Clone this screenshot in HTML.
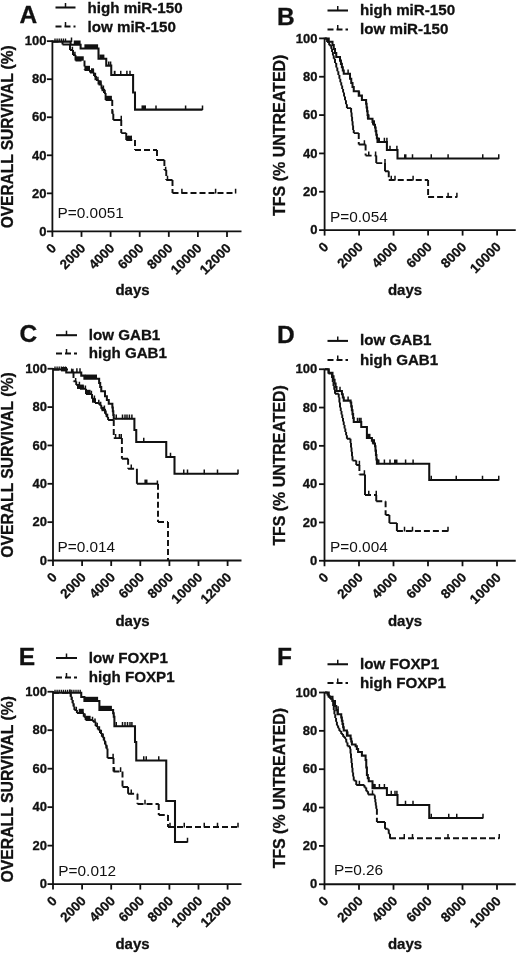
<!DOCTYPE html>
<html><head><meta charset="utf-8"><title>Figure</title>
<style>
html,body{margin:0;padding:0;background:#fff}
svg{display:block}
text{font-family:"Liberation Sans", sans-serif;fill:#111}
.b{font-weight:bold;stroke:#111;stroke-width:0.3px}
.ax{stroke:#111;stroke-width:1.8;fill:none}
.cv{stroke:#111;stroke-width:2.05;fill:none}
.ds{stroke:#111;stroke-width:1.8;fill:none;stroke-dasharray:6 3}
.tk2{stroke:#111;stroke-width:1.35;fill:none}
.cv2{stroke:#111;stroke-width:1.95;fill:none;stroke-linecap:butt}
.tk{stroke:#111;stroke-width:1.5;fill:none}
</style></head><body>
<svg width="520" height="955" viewBox="0 0 520 955">
<rect width="520" height="955" fill="#fff"/>
<g id="panelA">
<path class="ax" d="M52.40 40.35 V231.40 H241.50"/>
<path class="ax" d="M46.90 231.40 H52.40"/><text class="b" x="46.40" y="235.60" font-size="13" text-anchor="end">0</text>
<path class="ax" d="M46.90 193.35 H52.40"/><text class="b" x="46.40" y="197.55" font-size="13" text-anchor="end">20</text>
<path class="ax" d="M46.90 155.30 H52.40"/><text class="b" x="46.40" y="159.50" font-size="13" text-anchor="end">40</text>
<path class="ax" d="M46.90 117.25 H52.40"/><text class="b" x="46.40" y="121.45" font-size="13" text-anchor="end">60</text>
<path class="ax" d="M46.90 79.20 H52.40"/><text class="b" x="46.40" y="83.40" font-size="13" text-anchor="end">80</text>
<path class="ax" d="M46.90 41.15 H52.40"/><text class="b" x="46.40" y="45.35" font-size="13" text-anchor="end">100</text>
<path class="ax" d="M52.40 231.40 V236.90"/><text class="b" font-size="13.4" text-anchor="end" transform="translate(57.10 249.00) rotate(-45)">0</text>
<path class="ax" d="M81.50 231.40 V236.90"/><text class="b" font-size="13.4" text-anchor="end" transform="translate(86.20 249.00) rotate(-45)">2000</text>
<path class="ax" d="M110.60 231.40 V236.90"/><text class="b" font-size="13.4" text-anchor="end" transform="translate(115.30 249.00) rotate(-45)">4000</text>
<path class="ax" d="M139.70 231.40 V236.90"/><text class="b" font-size="13.4" text-anchor="end" transform="translate(144.40 249.00) rotate(-45)">6000</text>
<path class="ax" d="M168.80 231.40 V236.90"/><text class="b" font-size="13.4" text-anchor="end" transform="translate(173.50 249.00) rotate(-45)">8000</text>
<path class="ax" d="M197.90 231.40 V236.90"/><text class="b" font-size="13.4" text-anchor="end" transform="translate(202.60 249.00) rotate(-45)">10000</text>
<path class="ax" d="M227.00 231.40 V236.90"/><text class="b" font-size="13.4" text-anchor="end" transform="translate(231.70 249.00) rotate(-45)">12000</text>
<text class="b" x="132.50" y="295.00" font-size="15" text-anchor="middle">days</text>
<text class="b" font-size="15.5" text-anchor="middle" transform="translate(12.60 136.78) rotate(-90) scale(1 1.05)">OVERALL SURVIVAL (%)</text>
<text class="b" x="19.50" y="22.75" font-size="24.5">A</text>
<path class="cv" d="M55.50 7.50 H75.50"/><path class="tk" d="M65.50 7.50 V3.00"/><text class="b" x="87.50" y="12.90" font-size="15.15">high miR-150</text>
<path class="ds" d="M55.50 26.50 H75.50"/><path class="tk" d="M65.50 26.50 V22.00"/><text class="b" x="87.50" y="31.90" font-size="15.15">low miR-150</text>
<text x="57.50" y="218.40" font-size="15.4">P=0.0051</text>
<path class="cv" d="M52.50 41.60 H70.60 V44.70 H80.60 V48.50 H98.50 V58.75 H106.25 V65.60 H111.25 V75.00 H133.10 V92.50 H135.00 V109.60 H202.50"/>
<path class="cv2" d="M52.50 41.60 L58.50 41.60M61.50 41.60 L62.50 41.60M62.50 41.60 L62.50 44.50M62.50 44.50 L70.00 44.50M70.00 44.50 L70.00 50.00M70.00 50.00 L73.00 50.00M73.00 50.00 L73.00 55.00M73.00 55.00 L75.50 55.00M75.50 55.00 L75.50 60.50M75.50 60.50 L81.50 60.50M84.50 60.50 L84.50 66.50M84.50 69.50 L84.50 70.00M84.50 70.00 L90.00 70.00M90.00 70.00 L90.00 72.50M90.00 72.50 L94.00 72.50M94.00 72.50 L94.00 76.00M94.00 76.00 L96.00 76.00M96.00 76.00 L96.00 80.00M96.00 80.00 L98.50 80.00M98.50 80.00 L98.50 84.50M98.50 84.50 L101.50 84.50M101.50 84.50 L101.50 88.75M101.50 88.75 L104.00 88.75M104.00 88.75 L104.00 93.00M104.00 93.00 L105.60 93.00M105.60 93.00 L105.60 100.00M105.60 100.00 L112.25 100.00M112.25 100.00 L112.25 106.00M112.25 109.00 L112.25 113.75M112.25 113.75 L113.30 113.75M113.30 113.75 L113.30 120.00M113.30 120.00 L121.25 120.00M121.25 120.00 L121.25 126.00M121.25 129.00 L121.25 133.10M121.25 133.10 L126.25 133.10M126.25 133.10 L126.25 140.00M126.25 140.00 L132.25 140.00M135.00 140.00 L135.00 146.00M135.00 149.00 L135.00 150.00M135.00 150.00 L141.00 150.00M144.00 150.00 L150.00 150.00M153.00 150.00 L157.00 150.00M157.00 150.00 L157.00 156.00M157.00 159.00 L157.00 160.00M157.00 160.00 L164.40 160.00M164.40 160.00 L164.40 166.00M164.40 169.00 L164.40 170.00M164.40 170.00 L166.25 170.00M166.25 170.00 L166.25 176.00M166.25 179.00 L166.25 180.00M166.25 180.00 L172.50 180.00M172.50 180.00 L172.50 186.00M172.50 189.00 L172.50 193.00M172.50 193.00 L178.50 193.00M181.50 193.00 L187.50 193.00M190.50 193.00 L196.50 193.00M199.50 193.00 L205.50 193.00M208.50 193.00 L214.50 193.00M217.50 193.00 L223.50 193.00M226.50 193.00 L232.50 193.00M235.50 193.00 L235.60 193.00"/>
<path class="tk" d="M72.40 50.00 V46.80M74.90 55.00 V51.80M93.40 72.50 V69.30M95.40 76.00 V72.80M97.90 80.00 V76.80M100.90 84.50 V81.30M103.40 88.75 V85.55M105.00 93.00 V89.80M112.70 113.75 V110.55M165.65 170.00 V166.80"/>
<path class="tk" d="M71.50 42.10 V37.40M108.75 66.10 V61.40M110.60 66.10 V61.40M126.90 75.50 V70.80M130.00 75.50 V70.80M156.00 110.10 V105.40M185.60 110.10 V105.40M202.50 110.10 V105.40M121.25 120.50 V115.80M128.75 140.50 V135.80M131.25 140.50 V135.80M167.50 180.50 V175.80M181.90 193.50 V188.80M215.60 193.50 V188.80M235.60 193.50 V188.80"/>
<path class="tk2" d="M55.00 41.60 V38.60M57.10 41.60 V38.60M59.20 41.60 V38.60M61.30 41.60 V38.60M63.40 41.60 V38.60M65.50 41.60 V38.60"/>
<rect x="73.75" y="40.50" width="6.85" height="4.4" fill="#111"/>
<rect x="84.40" y="44.30" width="13.70" height="4.4" fill="#111"/>
<rect x="99.40" y="54.55" width="5.00" height="4.4" fill="#111"/>
<rect x="113.75" y="70.80" width="1.85" height="4.4" fill="#111"/>
<rect x="120.00" y="70.80" width="1.50" height="4.4" fill="#111"/>
<rect x="141.50" y="105.40" width="4.50" height="4.4" fill="#111"/>
<rect x="75.60" y="56.30" width="8.15" height="4.4" fill="#111"/>
<rect x="84.40" y="65.80" width="5.60" height="4.4" fill="#111"/>
<rect x="105.60" y="95.80" width="6.30" height="4.4" fill="#111"/>
<rect x="91.00" y="68.30" width="3.00" height="4.4" fill="#111"/>
<rect x="94.50" y="75.80" width="2.00" height="4.4" fill="#111"/>
<rect x="99.00" y="80.30" width="2.50" height="4.4" fill="#111"/>
<rect x="101.50" y="86.80" width="2.50" height="4.4" fill="#111"/>
<rect x="126.50" y="135.80" width="5.50" height="4.4" fill="#111"/>
</g>
<g id="panelB">
<path class="ax" d="M324.60 37.60 V230.10 H515.75"/>
<path class="ax" d="M319.10 230.10 H324.60"/><text class="b" x="317.40" y="234.30" font-size="13" text-anchor="end">0</text>
<path class="ax" d="M319.10 191.76 H324.60"/><text class="b" x="317.40" y="195.96" font-size="13" text-anchor="end">20</text>
<path class="ax" d="M319.10 153.42 H324.60"/><text class="b" x="317.40" y="157.62" font-size="13" text-anchor="end">40</text>
<path class="ax" d="M319.10 115.08 H324.60"/><text class="b" x="317.40" y="119.28" font-size="13" text-anchor="end">60</text>
<path class="ax" d="M319.10 76.74 H324.60"/><text class="b" x="317.40" y="80.94" font-size="13" text-anchor="end">80</text>
<path class="ax" d="M319.10 38.40 H324.60"/><text class="b" x="317.40" y="42.60" font-size="13" text-anchor="end">100</text>
<path class="ax" d="M324.60 230.10 V235.60"/><text class="b" font-size="13.4" text-anchor="end" transform="translate(329.30 247.70) rotate(-45)">0</text>
<path class="ax" d="M359.10 230.10 V235.60"/><text class="b" font-size="13.4" text-anchor="end" transform="translate(363.80 247.70) rotate(-45)">2000</text>
<path class="ax" d="M393.60 230.10 V235.60"/><text class="b" font-size="13.4" text-anchor="end" transform="translate(398.30 247.70) rotate(-45)">4000</text>
<path class="ax" d="M428.10 230.10 V235.60"/><text class="b" font-size="13.4" text-anchor="end" transform="translate(432.80 247.70) rotate(-45)">6000</text>
<path class="ax" d="M462.60 230.10 V235.60"/><text class="b" font-size="13.4" text-anchor="end" transform="translate(467.30 247.70) rotate(-45)">8000</text>
<path class="ax" d="M497.10 230.10 V235.60"/><text class="b" font-size="13.4" text-anchor="end" transform="translate(501.80 247.70) rotate(-45)">10000</text>
<text class="b" x="405.00" y="295.00" font-size="15" text-anchor="middle">days</text>
<text class="b" font-size="16.0" text-anchor="middle" transform="translate(284.50 135.25) rotate(-90) scale(1 1.05)">TFS (% UNTREATED)</text>
<text class="b" x="277.00" y="25.20" font-size="24.5">B</text>
<path class="cv" d="M327.50 10.50 H348.00"/><path class="tk" d="M337.75 10.50 V6.00"/><text class="b" x="360.00" y="15.00" font-size="15.15">high miR-150</text>
<path class="ds" d="M327.50 29.50 H348.00"/><path class="tk" d="M337.75 29.50 V25.00"/><text class="b" x="360.00" y="34.00" font-size="15.15">low miR-150</text>
<text x="330.00" y="221.75" font-size="15.4">P=0.054</text>
<path class="cv" d="M325.00 38.50 H328.75 V41.75 H332.50 V45.00 H333.75 V48.97 H335.00 V52.93 H336.25 V56.90 H340.00 V60.60 H340.94 V63.89 H341.88 V67.17 H342.81 V70.46 H343.75 V73.75 H348.10 H350.00 V78.75 H351.25 V82.92 H352.50 V87.08 H353.75 V91.25 H358.75 V95.60 H361.90 V100.00 H365.60 H366.10 V103.75 H366.60 V107.50 H367.10 V111.25 H367.60 V115.00 H368.10 V118.75 H372.50 V121.90 H373.75 V124.70 H375.00 V127.50 H375.62 V131.10 H376.25 V134.70 H376.88 V138.30 H377.50 V141.90 H386.90 V150.00 H397.50 V158.50 H498.75"/>
<path class="cv2" d="M325.00 38.50 L327.08 38.50M327.08 38.50 L327.08 41.92M327.08 41.92 L329.17 41.92M329.17 41.92 L329.17 45.33M329.17 45.33 L331.25 45.33M331.25 45.33 L331.25 48.75M331.25 48.75 L332.08 48.75M332.08 48.75 L332.08 52.08M332.08 52.08 L332.92 52.08M332.92 52.08 L332.92 55.42M332.92 55.42 L333.75 55.42M333.75 55.42 L333.75 58.75M333.75 58.75 L335.00 58.75M335.00 58.75 L335.00 63.12M335.00 63.12 L336.25 63.12M336.25 63.12 L336.25 67.50M336.25 67.50 L337.30 67.50M337.30 67.50 L337.30 71.25M337.30 71.25 L338.35 71.25M338.35 71.25 L338.35 75.00M338.35 75.00 L339.40 75.00M339.40 75.00 L339.40 78.75M339.40 78.75 L340.32 78.75M340.32 78.75 L340.32 82.19M340.32 82.19 L341.25 82.19M341.25 82.19 L341.25 85.62M341.25 85.62 L342.18 85.62M342.18 85.62 L342.18 89.06M342.18 89.06 L343.10 89.06M343.10 89.06 L343.10 92.50M343.10 92.50 L344.05 92.50M344.05 92.50 L344.05 96.40M344.05 96.40 L345.00 96.40M345.00 96.40 L345.00 100.30M345.00 100.30 L345.95 100.30M345.95 100.30 L345.95 104.20M345.95 104.20 L346.90 104.20M346.90 104.20 L346.90 108.10M346.90 108.10 L350.60 108.10M350.60 108.10 L351.10 108.10M351.10 108.10 L351.10 112.48M351.10 112.48 L351.60 112.48M351.60 112.48 L351.60 116.86M351.60 116.86 L352.10 116.86M352.10 116.86 L352.10 121.24M352.10 121.24 L352.60 121.24M352.60 121.24 L352.60 125.62M352.60 125.62 L353.10 125.62M353.10 125.62 L353.10 130.00M353.10 130.00 L353.75 130.00M353.75 130.00 L353.75 133.10M353.75 133.10 L358.75 133.10M358.75 133.10 L358.75 139.10M358.75 142.10 L358.75 144.40M358.75 144.40 L365.60 144.40M365.60 144.40 L365.60 150.40M365.60 153.40 L365.60 155.60M365.60 155.60 L371.60 155.60M374.60 155.60 L376.25 155.60M376.25 155.60 L376.25 163.10M376.25 163.10 L382.25 163.10M385.00 163.10 L385.00 171.25M385.00 171.25 L388.75 171.25M388.75 171.25 L388.75 177.25M388.75 180.00 L394.75 180.00M397.75 180.00 L403.75 180.00M406.75 180.00 L412.75 180.00M415.75 180.00 L421.75 180.00M424.75 180.00 L428.10 180.00M428.10 180.00 L428.10 186.00M428.10 189.00 L428.10 195.00M428.10 196.90 L434.10 196.90M437.10 196.90 L443.10 196.90M446.10 196.90 L452.10 196.90M455.10 196.90 L456.90 196.90"/>
<path class="tk" d="M348.10 74.25 V69.55M359.40 96.10 V91.40M384.40 142.40 V137.70M386.90 142.40 V137.70M390.00 150.50 V145.80M396.90 150.50 V145.80M412.50 159.00 V154.30M431.25 159.00 V154.30M448.10 159.00 V154.30M482.75 159.00 V154.30M498.75 159.00 V154.30M364.40 144.90 V140.20M368.75 156.10 V151.40M375.60 156.10 V151.40M385.00 163.60 V158.90M391.25 180.50 V175.80M395.00 180.50 V175.80M413.10 180.50 V175.80M448.10 197.40 V192.70M456.90 197.40 V192.70"/>
<rect x="366.90" y="114.55" width="2.60" height="4.4" fill="#111"/>
<rect x="372.00" y="120.30" width="3.00" height="4.4" fill="#111"/>
<rect x="377.00" y="137.70" width="3.00" height="4.4" fill="#111"/>
<rect x="404.00" y="154.30" width="2.50" height="4.4" fill="#111"/>
</g>
<g id="panelC">
<path class="ax" d="M53.00 367.95 V560.50 H241.50"/>
<path class="ax" d="M47.50 560.50 H53.00"/><text class="b" x="47.00" y="564.70" font-size="13" text-anchor="end">0</text>
<path class="ax" d="M47.50 522.15 H53.00"/><text class="b" x="47.00" y="526.35" font-size="13" text-anchor="end">20</text>
<path class="ax" d="M47.50 483.80 H53.00"/><text class="b" x="47.00" y="488.00" font-size="13" text-anchor="end">40</text>
<path class="ax" d="M47.50 445.45 H53.00"/><text class="b" x="47.00" y="449.65" font-size="13" text-anchor="end">60</text>
<path class="ax" d="M47.50 407.10 H53.00"/><text class="b" x="47.00" y="411.30" font-size="13" text-anchor="end">80</text>
<path class="ax" d="M47.50 368.75 H53.00"/><text class="b" x="47.00" y="372.95" font-size="13" text-anchor="end">100</text>
<path class="ax" d="M53.00 560.50 V566.00"/><text class="b" font-size="13.4" text-anchor="end" transform="translate(57.70 578.10) rotate(-45)">0</text>
<path class="ax" d="M82.10 560.50 V566.00"/><text class="b" font-size="13.4" text-anchor="end" transform="translate(86.80 578.10) rotate(-45)">2000</text>
<path class="ax" d="M111.20 560.50 V566.00"/><text class="b" font-size="13.4" text-anchor="end" transform="translate(115.90 578.10) rotate(-45)">4000</text>
<path class="ax" d="M140.30 560.50 V566.00"/><text class="b" font-size="13.4" text-anchor="end" transform="translate(145.00 578.10) rotate(-45)">6000</text>
<path class="ax" d="M169.40 560.50 V566.00"/><text class="b" font-size="13.4" text-anchor="end" transform="translate(174.10 578.10) rotate(-45)">8000</text>
<path class="ax" d="M198.50 560.50 V566.00"/><text class="b" font-size="13.4" text-anchor="end" transform="translate(203.20 578.10) rotate(-45)">10000</text>
<path class="ax" d="M227.60 560.50 V566.00"/><text class="b" font-size="13.4" text-anchor="end" transform="translate(232.30 578.10) rotate(-45)">12000</text>
<text class="b" x="132.50" y="626.25" font-size="15" text-anchor="middle">days</text>
<text class="b" font-size="15.7" text-anchor="middle" transform="translate(12.60 465.02) rotate(-90) scale(1 1.05)">OVERALL SURVIVAL (%)</text>
<text class="b" x="19.50" y="342.00" font-size="24.5">C</text>
<path class="cv" d="M56.00 335.20 H77.00"/><path class="tk" d="M66.50 335.20 V330.70"/><text class="b" x="88.75" y="339.70" font-size="15.15">low GAB1</text>
<path class="ds" d="M56.00 353.50 H77.00"/><path class="tk" d="M66.50 353.50 V349.00"/><text class="b" x="88.75" y="358.00" font-size="15.15">high GAB1</text>
<text x="57.40" y="552.20" font-size="15.4">P=0.014</text>
<path class="cv" d="M53.00 369.40 H66.25 V372.50 H81.25 V375.60 H84.40 V378.75 H98.10 H99.15 V382.92 H100.20 V387.08 H101.25 V391.25 H105.00 V396.25 H106.88 V400.00 H108.75 V403.75 H111.90 H112.36 V407.50 H112.83 V411.25 H113.29 V415.00 H113.75 V418.75 H134.40 V430.00 H136.25 V441.90 H166.25 V457.00 H174.50 V473.70 H238.00"/>
<path class="cv2" d="M53.00 369.40 L59.00 369.40M62.00 369.40 L68.00 369.40M71.00 369.40 L71.90 369.40M71.90 369.40 L71.90 372.00M71.90 372.00 L73.50 372.00M73.50 372.00 L73.50 378.00M73.50 381.00 L73.50 381.25M73.50 381.25 L76.25 381.25M76.25 381.25 L76.25 385.00M76.25 385.00 L80.00 385.00M80.00 385.00 L80.00 388.75M80.00 388.75 L83.75 388.75M83.75 388.75 L86.00 388.75M86.00 388.75 L86.00 394.00M86.00 394.00 L90.60 394.00M90.60 394.00 L92.00 394.00M92.00 394.00 L92.00 398.75M92.00 398.75 L95.00 398.75M95.00 398.75 L95.00 403.00M95.00 403.00 L99.40 403.00M99.40 403.00 L99.40 405.00M99.40 405.00 L101.25 405.00M101.25 405.00 L101.25 408.75M101.25 408.75 L105.00 408.75M105.00 408.75 L105.00 413.75M105.00 413.75 L106.55 413.75M106.55 413.75 L106.55 416.88M106.55 416.88 L108.10 416.88M108.10 416.88 L108.10 420.00M108.10 420.00 L113.75 420.00M113.75 420.00 L113.75 426.00M113.75 429.00 L113.75 435.00M113.75 438.00 L113.75 438.10M113.75 438.10 L121.90 438.10M121.90 438.10 L121.90 444.10M121.90 447.10 L121.90 453.10M121.90 456.10 L121.90 458.75M121.90 458.75 L128.10 458.75M128.10 458.75 L128.10 464.75M128.10 467.75 L128.10 468.75M128.10 468.75 L134.10 468.75M136.90 468.75 L136.90 476.00M136.90 476.00 L136.90 483.75M136.90 483.75 L143.00 483.75M143.00 483.75 L149.00 483.75M149.00 483.75 L155.00 483.75M155.00 483.75 L158.00 483.75M158.00 483.75 L158.00 489.75M158.00 492.75 L158.00 498.75M158.00 501.75 L158.00 507.75M158.00 510.75 L158.00 516.75M158.00 519.75 L158.00 522.00M158.00 522.00 L164.00 522.00M167.00 522.00 L168.00 522.00M168.00 522.00 L168.00 528.00M168.00 531.00 L168.00 537.00M168.00 540.00 L168.00 546.00M168.00 549.00 L168.00 555.00M168.00 558.00 L168.00 560.00"/>
<path class="tk" d="M72.90 372.00 V368.80M75.65 381.25 V378.05M79.40 385.00 V381.80M83.15 388.75 V385.55M85.40 388.75 V385.55M91.40 394.00 V390.80M94.40 398.75 V395.55M98.80 403.00 V399.80M100.65 405.00 V401.80M104.40 408.75 V405.55M105.95 413.75 V410.55M107.50 416.88 V413.68M157.40 483.75 V480.55"/>
<path class="tk" d="M76.90 373.00 V368.30M80.00 373.00 V368.30M116.25 419.25 V414.55M122.50 419.25 V414.55M125.00 419.25 V414.55M127.00 419.25 V414.55M129.40 419.25 V414.55M131.90 419.25 V414.55M143.75 442.40 V437.70M170.50 457.50 V452.80M183.75 474.20 V469.50M187.50 474.20 V469.50M204.25 474.20 V469.50M217.50 474.20 V469.50M238.00 474.20 V469.50M115.60 438.60 V433.90M119.40 438.60 V433.90M121.25 438.60 V433.90M131.25 469.25 V464.55"/>
<path class="tk2" d="M55.00 369.40 V366.40M57.10 369.40 V366.40M59.20 369.40 V366.40M61.30 369.40 V366.40M63.40 369.40 V366.40M65.50 369.40 V366.40"/>
<rect x="61.00" y="367.00" width="6.00" height="4.4" fill="#111"/>
<rect x="85.00" y="374.55" width="12.00" height="4.4" fill="#111"/>
<rect x="77.00" y="384.55" width="6.75" height="4.4" fill="#111"/>
<rect x="85.60" y="389.80" width="5.00" height="4.4" fill="#111"/>
<rect x="92.00" y="398.30" width="4.00" height="4.4" fill="#111"/>
<rect x="101.50" y="406.80" width="3.50" height="4.4" fill="#111"/>
<rect x="144.40" y="479.55" width="3.10" height="4.4" fill="#111"/>
</g>
<g id="panelD">
<path class="ax" d="M324.50 368.45 V560.75 H515.75"/>
<path class="ax" d="M319.00 560.75 H324.50"/><text class="b" x="317.30" y="564.95" font-size="13" text-anchor="end">0</text>
<path class="ax" d="M319.00 522.45 H324.50"/><text class="b" x="317.30" y="526.65" font-size="13" text-anchor="end">20</text>
<path class="ax" d="M319.00 484.15 H324.50"/><text class="b" x="317.30" y="488.35" font-size="13" text-anchor="end">40</text>
<path class="ax" d="M319.00 445.85 H324.50"/><text class="b" x="317.30" y="450.05" font-size="13" text-anchor="end">60</text>
<path class="ax" d="M319.00 407.55 H324.50"/><text class="b" x="317.30" y="411.75" font-size="13" text-anchor="end">80</text>
<path class="ax" d="M319.00 369.25 H324.50"/><text class="b" x="317.30" y="373.45" font-size="13" text-anchor="end">100</text>
<path class="ax" d="M324.50 560.75 V566.25"/><text class="b" font-size="13.4" text-anchor="end" transform="translate(329.20 578.35) rotate(-45)">0</text>
<path class="ax" d="M359.00 560.75 V566.25"/><text class="b" font-size="13.4" text-anchor="end" transform="translate(363.70 578.35) rotate(-45)">2000</text>
<path class="ax" d="M393.50 560.75 V566.25"/><text class="b" font-size="13.4" text-anchor="end" transform="translate(398.20 578.35) rotate(-45)">4000</text>
<path class="ax" d="M428.00 560.75 V566.25"/><text class="b" font-size="13.4" text-anchor="end" transform="translate(432.70 578.35) rotate(-45)">6000</text>
<path class="ax" d="M462.50 560.75 V566.25"/><text class="b" font-size="13.4" text-anchor="end" transform="translate(467.20 578.35) rotate(-45)">8000</text>
<path class="ax" d="M497.00 560.75 V566.25"/><text class="b" font-size="13.4" text-anchor="end" transform="translate(501.70 578.35) rotate(-45)">10000</text>
<text class="b" x="405.00" y="626.25" font-size="15" text-anchor="middle">days</text>
<text class="b" font-size="15.9" text-anchor="middle" transform="translate(284.50 465.40) rotate(-90) scale(1 1.05)">TFS (% UNTREATED)</text>
<text class="b" x="277.00" y="342.50" font-size="24.5">D</text>
<path class="cv" d="M327.50 340.90 H348.00"/><path class="tk" d="M337.75 340.90 V336.40"/><text class="b" x="360.00" y="345.40" font-size="15.15">low GAB1</text>
<path class="ds" d="M327.50 360.00 H348.00"/><path class="tk" d="M337.75 360.00 V355.50"/><text class="b" x="360.00" y="364.50" font-size="15.15">high GAB1</text>
<text x="330.00" y="552.00" font-size="15.4">P=0.004</text>
<path class="cv" d="M325.00 369.25 H328.75 V372.75 H332.50 V376.25 H333.53 V379.83 H334.57 V383.42 H335.60 V387.00 H336.50 V391.00 H341.00 H341.92 V394.20 H342.83 V397.40 H343.75 V400.60 H348.10 H350.60 V402.50 H351.23 V406.38 H351.86 V410.26 H352.49 V414.14 H353.12 V418.02 H353.75 V421.90 H361.25 V426.90 H366.90 V438.00 H371.90 V440.60 H373.45 V443.43 H375.00 V446.25 H375.48 V450.62 H375.95 V455.00 H376.42 V459.38 H376.90 V463.75 H429.25 V480.00 H498.75"/>
<path class="cv2" d="M325.00 369.25 L328.50 369.25M328.50 369.25 L328.50 373.62M328.50 373.62 L332.00 373.62M332.00 373.62 L332.00 378.00M332.00 378.00 L332.75 378.00M332.75 378.00 L332.75 381.94M332.75 381.94 L333.50 381.94M333.50 381.94 L333.50 385.88M333.50 385.88 L334.25 385.88M334.25 385.88 L334.25 389.81M334.25 389.81 L335.00 389.81M335.00 389.81 L335.00 393.75M335.00 393.75 L338.75 393.75M338.75 393.75 L338.75 397.50M338.75 397.50 L339.38 397.50M339.38 397.50 L339.38 402.50M339.38 402.50 L340.00 402.50M340.00 402.50 L340.00 407.50M340.00 407.50 L340.75 407.50M340.75 407.50 L340.75 411.00M340.75 411.00 L341.50 411.00M341.50 411.00 L341.50 414.50M341.50 414.50 L342.25 414.50M342.25 414.50 L342.25 418.00M342.25 418.00 L343.00 418.00M343.00 418.00 L343.00 421.50M343.00 421.50 L343.75 421.50M343.75 421.50 L343.75 425.00M343.75 425.00 L344.54 425.00M344.54 425.00 L344.54 428.44M344.54 428.44 L345.32 428.44M345.32 428.44 L345.32 431.88M345.32 431.88 L346.11 431.88M346.11 431.88 L346.11 435.31M346.11 435.31 L346.90 435.31M346.90 435.31 L346.90 438.75M346.90 438.75 L350.00 438.75M350.00 438.75 L350.50 438.75M350.50 438.75 L350.50 443.12M350.50 443.12 L351.00 443.12M351.00 443.12 L351.00 447.49M351.00 447.49 L351.50 447.49M351.50 447.49 L351.50 451.86M351.50 451.86 L352.00 451.86M352.00 451.86 L352.00 456.23M352.00 456.23 L352.50 456.23M352.50 456.23 L352.50 460.60M352.50 460.60 L356.25 460.60M356.25 460.60 L356.25 465.00M356.25 465.00 L359.40 465.00M359.40 465.00 L359.40 471.00M359.40 474.00 L359.40 474.40M359.40 474.40 L365.00 474.40M365.00 474.40 L365.00 481.00M365.00 481.00 L365.00 488.00M365.00 488.00 L365.00 495.00M365.00 495.00 L371.00 495.00M374.00 495.00 L376.25 495.00M376.25 495.00 L376.25 501.25M376.25 501.25 L382.25 501.25M385.25 501.25 L385.60 501.25M385.60 501.25 L385.60 507.25M385.60 510.25 L385.60 515.00M385.60 515.00 L389.40 515.00M389.40 515.00 L389.40 523.10M389.40 523.10 L396.90 523.10M396.90 523.10 L396.90 531.00M396.90 531.00 L402.90 531.00M405.90 531.00 L411.90 531.00M414.90 531.00 L420.90 531.00M423.90 531.00 L429.90 531.00M432.90 531.00 L438.90 531.00M441.90 531.00 L447.90 531.00"/>
<path class="tk" d="M340.00 391.50 V386.80M348.10 401.10 V396.40M357.50 422.40 V417.70M359.40 422.40 V417.70M361.00 422.40 V417.70M378.00 464.25 V459.55M384.40 464.25 V459.55M390.00 464.25 V459.55M405.60 464.25 V459.55M413.10 464.25 V459.55M431.25 480.50 V475.80M456.25 480.50 V475.80M482.50 480.50 V475.80M498.75 480.50 V475.80M359.40 465.50 V460.80M364.40 474.90 V470.20M368.75 495.50 V490.80M376.25 495.50 V490.80M404.50 531.50 V526.80M412.50 531.50 V526.80M448.00 531.50 V526.80"/>
<rect x="366.90" y="433.80" width="3.60" height="4.4" fill="#111"/>
<rect x="371.90" y="439.30" width="3.10" height="4.4" fill="#111"/>
<rect x="376.90" y="459.55" width="2.60" height="4.4" fill="#111"/>
<rect x="394.00" y="459.55" width="3.50" height="4.4" fill="#111"/>
</g>
<g id="panelE">
<path class="ax" d="M53.00 690.95 V884.10 H241.50"/>
<path class="ax" d="M47.50 884.10 H53.00"/><text class="b" x="47.00" y="888.30" font-size="13" text-anchor="end">0</text>
<path class="ax" d="M47.50 845.63 H53.00"/><text class="b" x="47.00" y="849.83" font-size="13" text-anchor="end">20</text>
<path class="ax" d="M47.50 807.16 H53.00"/><text class="b" x="47.00" y="811.36" font-size="13" text-anchor="end">40</text>
<path class="ax" d="M47.50 768.69 H53.00"/><text class="b" x="47.00" y="772.89" font-size="13" text-anchor="end">60</text>
<path class="ax" d="M47.50 730.22 H53.00"/><text class="b" x="47.00" y="734.42" font-size="13" text-anchor="end">80</text>
<path class="ax" d="M47.50 691.75 H53.00"/><text class="b" x="47.00" y="695.95" font-size="13" text-anchor="end">100</text>
<path class="ax" d="M53.00 884.10 V889.60"/><text class="b" font-size="13.4" text-anchor="end" transform="translate(57.70 901.70) rotate(-45)">0</text>
<path class="ax" d="M82.10 884.10 V889.60"/><text class="b" font-size="13.4" text-anchor="end" transform="translate(86.80 901.70) rotate(-45)">2000</text>
<path class="ax" d="M111.20 884.10 V889.60"/><text class="b" font-size="13.4" text-anchor="end" transform="translate(115.90 901.70) rotate(-45)">4000</text>
<path class="ax" d="M140.30 884.10 V889.60"/><text class="b" font-size="13.4" text-anchor="end" transform="translate(145.00 901.70) rotate(-45)">6000</text>
<path class="ax" d="M169.40 884.10 V889.60"/><text class="b" font-size="13.4" text-anchor="end" transform="translate(174.10 901.70) rotate(-45)">8000</text>
<path class="ax" d="M198.50 884.10 V889.60"/><text class="b" font-size="13.4" text-anchor="end" transform="translate(203.20 901.70) rotate(-45)">10000</text>
<path class="ax" d="M227.60 884.10 V889.60"/><text class="b" font-size="13.4" text-anchor="end" transform="translate(232.30 901.70) rotate(-45)">12000</text>
<text class="b" x="132.50" y="948.75" font-size="15" text-anchor="middle">days</text>
<text class="b" font-size="15.8" text-anchor="middle" transform="translate(12.60 789.27) rotate(-90) scale(1 1.05)">OVERALL SURVIVAL (%)</text>
<text class="b" x="18.70" y="665.00" font-size="24.5">E</text>
<path class="cv" d="M56.00 658.00 H77.00"/><path class="tk" d="M66.50 658.00 V653.50"/><text class="b" x="88.75" y="662.50" font-size="15.15">low FOXP1</text>
<path class="ds" d="M56.00 677.50 H77.00"/><path class="tk" d="M66.50 677.50 V673.00"/><text class="b" x="88.75" y="682.00" font-size="15.15">high FOXP1</text>
<text x="58.30" y="876.30" font-size="15.4">P=0.012</text>
<path class="cv" d="M53.00 692.80 H81.25 V697.00 H84.40 V701.00 H99.40 V710.00 H112.50 H113.13 V713.33 H113.77 V716.67 H114.40 V720.00 V726.25 H135.00 V742.00 H136.25 V760.50 H166.25 V801.00 H175.00 V842.00 H187.50"/>
<path class="cv2" d="M53.00 692.80 L59.00 692.80M62.00 692.80 L68.00 692.80M68.75 692.80 L70.60 692.80M70.60 692.80 L70.60 696.75M70.60 696.75 L71.55 696.75M71.55 696.75 L71.55 700.04M71.55 700.04 L72.50 700.04M72.50 700.04 L72.50 703.33M72.50 703.33 L73.45 703.33M73.45 703.33 L73.45 706.61M73.45 706.61 L74.40 706.61M74.40 706.61 L74.40 709.90M74.40 709.90 L76.90 709.90M76.90 709.90 L76.90 713.00M76.90 713.00 L83.75 713.00M83.75 713.00 L83.75 716.75M83.75 716.75 L85.60 716.75M85.60 716.75 L85.60 720.00M85.60 720.00 L90.60 720.00M90.60 720.00 L93.10 720.00M93.10 720.00 L93.10 721.75M93.10 721.75 L95.60 721.75M95.60 721.75 L95.60 726.00M95.60 726.00 L97.80 726.00M97.80 726.00 L97.80 729.50M97.80 729.50 L100.00 729.50M100.00 729.50 L100.00 733.00M100.00 733.00 L101.88 733.00M101.88 733.00 L101.88 736.75M101.88 736.75 L103.75 736.75M103.75 736.75 L103.75 740.50M103.75 740.50 L105.00 740.50M105.00 740.50 L105.00 744.50M105.00 744.50 L106.25 744.50M106.25 744.50 L106.25 748.50M106.25 748.50 L107.50 748.50M107.50 748.50 L107.50 752.50M107.50 752.50 L107.50 758.00M107.50 758.00 L113.50 758.00M113.50 758.00 L113.50 764.00M113.50 767.00 L113.50 771.50M113.50 771.50 L119.50 771.50M122.50 771.50 L122.50 777.50M122.50 780.50 L122.50 786.50M122.50 786.90 L128.10 786.90M128.10 786.90 L128.10 793.75M128.10 793.75 L134.10 793.75M137.10 793.75 L137.50 793.75M137.50 793.75 L137.50 799.75M137.50 802.75 L137.50 804.00M137.50 804.00 L143.50 804.00M146.50 804.00 L152.50 804.00M155.50 804.00 L158.75 804.00M158.75 804.00 L158.75 810.00M158.75 813.00 L158.75 815.00M158.75 815.00 L164.75 815.00M167.75 815.00 L168.00 815.00M168.00 815.00 L168.00 821.00M168.00 824.00 L168.00 827.00M168.00 827.00 L174.00 827.00M177.00 827.00 L183.00 827.00M186.00 827.00 L192.00 827.00M195.00 827.00 L201.00 827.00M204.00 827.00 L210.00 827.00M213.00 827.00 L219.00 827.00M222.00 827.00 L228.00 827.00M231.00 827.00 L237.00 827.00"/>
<path class="tk" d="M70.00 692.80 V689.60M70.95 696.75 V693.55M71.90 700.04 V696.84M72.85 703.33 V700.12M73.80 706.61 V703.41M76.30 709.90 V706.70M85.00 716.75 V713.55M92.50 720.00 V716.80M95.00 721.75 V718.55M97.20 726.00 V722.80M99.40 729.50 V726.30M101.28 733.00 V729.80M103.15 736.75 V733.55M104.40 740.50 V737.30M105.65 744.50 V741.30M106.90 748.50 V745.30"/>
<path class="tk" d="M116.25 726.75 V722.05M122.50 726.75 V722.05M125.00 726.75 V722.05M127.50 726.75 V722.05M130.00 726.75 V722.05M131.90 726.75 V722.05M143.75 761.00 V756.30M146.25 761.00 V756.30M158.75 761.00 V756.30M187.50 842.50 V837.80M113.10 758.50 V753.80M114.40 772.00 V767.30M120.60 772.00 V767.30M131.25 794.25 V789.55M145.00 804.50 V799.80M170.00 827.50 V822.80M184.25 827.50 V822.80M204.25 827.50 V822.80M217.50 827.50 V822.80M238.00 827.50 V822.80"/>
<path class="tk2" d="M55.00 692.80 V689.80M57.10 692.80 V689.80M59.20 692.80 V689.80M61.30 692.80 V689.80M63.40 692.80 V689.80M65.50 692.80 V689.80M67.60 692.80 V689.80M69.70 692.80 V689.80M71.80 692.80 V689.80M73.90 692.80 V689.80M76.00 692.80 V689.80M78.10 692.80 V689.80M80.20 692.80 V689.80"/>
<rect x="85.00" y="696.80" width="13.10" height="4.4" fill="#111"/>
<rect x="100.00" y="705.80" width="11.90" height="4.4" fill="#111"/>
<rect x="78.75" y="708.80" width="5.00" height="4.4" fill="#111"/>
<rect x="85.60" y="715.80" width="5.00" height="4.4" fill="#111"/>
</g>
<g id="panelF">
<path class="ax" d="M324.50 691.70 V884.25 H515.75"/>
<path class="ax" d="M319.00 884.25 H324.50"/><text class="b" x="317.30" y="888.45" font-size="13" text-anchor="end">0</text>
<path class="ax" d="M319.00 845.90 H324.50"/><text class="b" x="317.30" y="850.10" font-size="13" text-anchor="end">20</text>
<path class="ax" d="M319.00 807.55 H324.50"/><text class="b" x="317.30" y="811.75" font-size="13" text-anchor="end">40</text>
<path class="ax" d="M319.00 769.20 H324.50"/><text class="b" x="317.30" y="773.40" font-size="13" text-anchor="end">60</text>
<path class="ax" d="M319.00 730.85 H324.50"/><text class="b" x="317.30" y="735.05" font-size="13" text-anchor="end">80</text>
<path class="ax" d="M319.00 692.50 H324.50"/><text class="b" x="317.30" y="696.70" font-size="13" text-anchor="end">100</text>
<path class="ax" d="M324.50 884.25 V889.75"/><text class="b" font-size="13.4" text-anchor="end" transform="translate(329.20 901.85) rotate(-45)">0</text>
<path class="ax" d="M359.00 884.25 V889.75"/><text class="b" font-size="13.4" text-anchor="end" transform="translate(363.70 901.85) rotate(-45)">2000</text>
<path class="ax" d="M393.50 884.25 V889.75"/><text class="b" font-size="13.4" text-anchor="end" transform="translate(398.20 901.85) rotate(-45)">4000</text>
<path class="ax" d="M428.00 884.25 V889.75"/><text class="b" font-size="13.4" text-anchor="end" transform="translate(432.70 901.85) rotate(-45)">6000</text>
<path class="ax" d="M462.50 884.25 V889.75"/><text class="b" font-size="13.4" text-anchor="end" transform="translate(467.20 901.85) rotate(-45)">8000</text>
<path class="ax" d="M497.00 884.25 V889.75"/><text class="b" font-size="13.4" text-anchor="end" transform="translate(501.70 901.85) rotate(-45)">10000</text>
<text class="b" x="405.00" y="948.75" font-size="15" text-anchor="middle">days</text>
<text class="b" font-size="15.9" text-anchor="middle" transform="translate(284.50 788.12) rotate(-90) scale(1 1.05)">TFS (% UNTREATED)</text>
<text class="b" x="277.00" y="665.30" font-size="24.5">F</text>
<path class="cv" d="M327.50 664.25 H348.00"/><path class="tk" d="M337.75 664.25 V659.75"/><text class="b" x="360.00" y="668.75" font-size="15.15">low FOXP1</text>
<path class="ds" d="M327.50 683.00 H348.00"/><path class="tk" d="M337.75 683.00 V678.50"/><text class="b" x="360.00" y="687.50" font-size="15.15">high FOXP1</text>
<text x="333.90" y="875.30" font-size="15.4">P=0.26</text>
<path class="cv" d="M325.00 692.50 H328.75 V696.75 H332.50 V701.00 H335.00 V706.00 H336.25 V710.12 H337.50 V714.25 H340.60 H341.23 V717.50 H341.86 V720.75 H342.49 V724.00 H343.12 V727.25 H343.75 V730.50 H346.90 V735.60 H350.60 V738.75 H351.25 V741.58 H351.90 V744.40 H355.60 V746.25 H356.85 V749.08 H358.10 V751.90 H361.90 V755.60 H365.60 V760.00 H366.25 V767.50 H366.90 V775.00 H367.82 V778.12 H368.75 V781.25 H372.50 V783.10 V788.10 H386.90 V795.00 H397.50 V805.00 H429.25 V818.00 H483.00"/>
<path class="cv2" d="M325.00 692.50 L327.50 692.50M327.50 692.50 L327.50 695.58M327.50 695.58 L330.00 695.58M330.00 695.58 L330.00 698.67M330.00 698.67 L332.50 698.67M332.50 698.67 L332.50 701.75M332.50 701.75 L333.13 701.75M333.13 701.75 L333.13 705.92M333.13 705.92 L333.77 705.92M333.77 705.92 L333.77 710.08M333.77 710.08 L334.40 710.08M334.40 710.08 L334.40 714.25M334.40 714.25 L335.23 714.25M335.23 714.25 L335.23 718.00M335.23 718.00 L336.07 718.00M336.07 718.00 L336.07 721.75M336.07 721.75 L336.90 721.75M336.90 721.75 L336.90 725.50M336.90 725.50 L338.15 725.50M338.15 725.50 L338.15 728.30M338.15 728.30 L339.40 728.30M339.40 728.30 L339.40 731.10M339.40 731.10 L341.25 731.10M341.25 731.10 L341.25 733.92M341.25 733.92 L343.10 733.92M343.10 733.92 L343.10 736.75M343.10 736.75 L345.00 736.75M345.00 736.75 L345.00 738.75M345.00 738.75 L346.25 738.75M346.25 738.75 L346.25 742.50M346.25 742.50 L347.50 742.50M347.50 742.50 L347.50 746.25M347.50 746.25 L350.00 746.25M350.00 746.25 L350.00 748.75M350.00 748.75 L350.50 748.75M350.50 748.75 L350.50 753.50M350.50 753.50 L351.00 753.50M351.00 753.50 L351.00 758.25M351.00 758.25 L351.50 758.25M351.50 758.25 L351.50 763.00M351.50 763.00 L352.00 763.00M352.00 763.00 L352.00 767.75M352.00 767.75 L352.50 767.75M352.50 767.75 L352.50 772.50M352.50 772.50 L353.12 772.50M353.12 772.50 L353.12 776.55M353.12 776.55 L353.75 776.55M353.75 776.55 L353.75 780.60M353.75 780.60 L356.25 780.60M356.25 780.60 L356.25 785.00M356.25 785.00 L359.40 785.00M359.40 785.00 L364.40 785.00M364.40 785.00 L364.40 787.50M364.40 787.50 L366.25 787.50M366.25 787.50 L366.25 791.25M366.25 791.25 L368.10 791.25M368.10 791.25 L368.10 794.40M368.10 794.40 L372.50 794.40M372.50 794.40 L374.40 794.40M374.40 794.40 L374.40 795.60M374.40 795.60 L374.86 795.60M374.86 795.60 L374.86 798.89M374.86 798.89 L375.32 798.89M375.32 798.89 L375.32 802.17M375.32 802.17 L375.79 802.17M375.79 802.17 L375.79 805.46M375.79 805.46 L376.25 805.46M376.25 805.46 L376.25 808.75M376.25 808.75 L376.90 808.75M376.90 808.75 L376.90 814.75M376.90 817.75 L376.90 821.90M376.90 821.90 L385.00 821.90M385.00 821.90 L385.00 828.75M385.00 828.75 L387.50 828.75M387.50 828.75 L387.50 829.40M387.50 829.40 L388.75 829.40M388.75 829.40 L388.75 833.83M388.75 833.83 L390.00 833.83M390.00 833.83 L390.00 838.25M390.00 838.25 L396.00 838.25M399.00 838.25 L405.00 838.25M408.00 838.25 L414.00 838.25M417.00 838.25 L423.00 838.25M426.00 838.25 L432.00 838.25M435.00 838.25 L441.00 838.25M444.00 838.25 L450.00 838.25M453.00 838.25 L459.00 838.25M462.00 838.25 L468.00 838.25M471.00 838.25 L477.00 838.25M480.00 838.25 L486.00 838.25M489.00 838.25 L495.00 838.25M498.00 838.25 L499.25 838.25"/>
<path class="tk" d="M338.10 714.75 V710.05M338.10 711.00 V706.30M375.00 788.60 V783.90M379.40 788.60 V783.90M384.40 788.60 V783.90M391.25 795.50 V790.80M395.00 795.50 V790.80M396.90 795.50 V790.80M405.50 805.50 V800.80M413.00 805.50 V800.80M431.25 818.50 V813.80M448.75 818.50 V813.80M456.75 818.50 V813.80M483.00 818.50 V813.80M359.40 785.50 V780.80M372.50 794.90 V790.20M404.25 838.75 V834.05M412.50 838.75 V834.05M448.00 838.75 V834.05M499.25 838.75 V834.05M390.00 838.75 V834.05"/>
<rect x="346.00" y="731.40" width="2.50" height="4.4" fill="#111"/>
<rect x="372.50" y="783.90" width="2.50" height="4.4" fill="#111"/>
</g>
</svg>
</body></html>
